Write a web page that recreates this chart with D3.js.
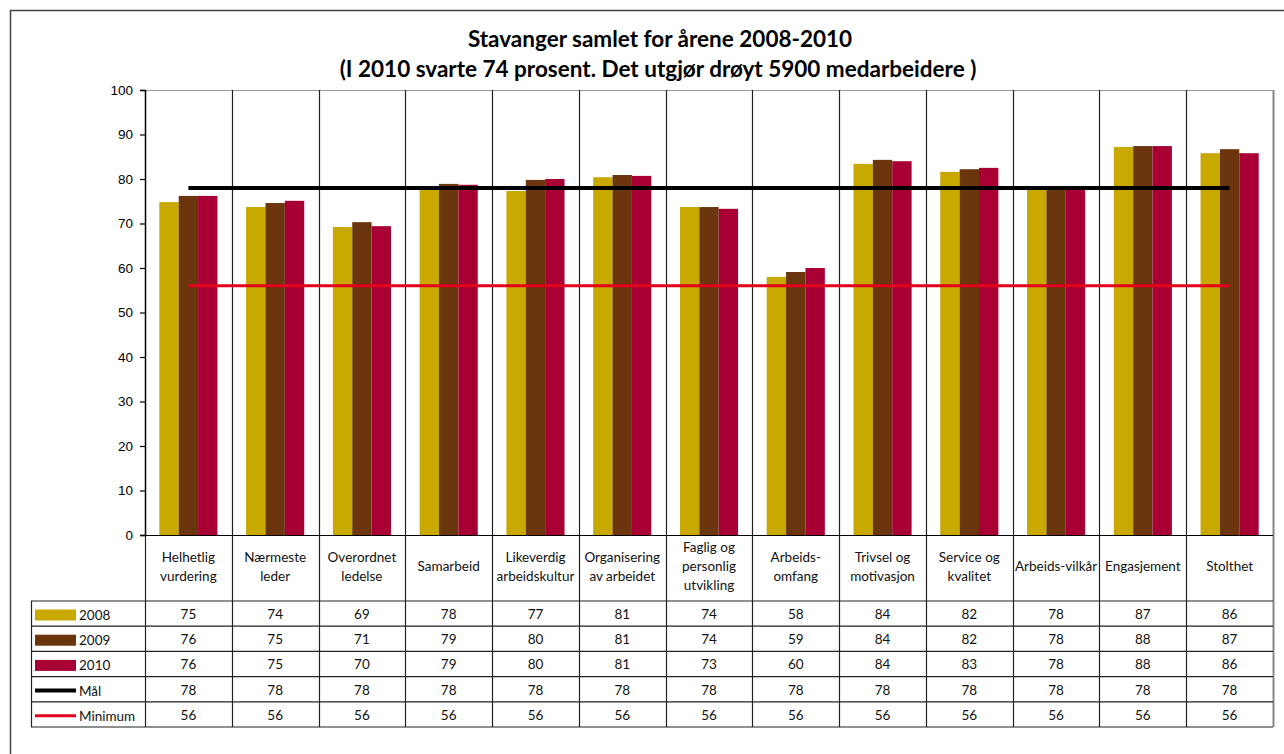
<!DOCTYPE html>
<html>
<head>
<meta charset="utf-8">
<script src="https://cdn.jsdelivr.net/npm/d3@7"></script>
<style>
  body { margin: 0; background: #fff; }
  svg text { font-family: Lato, "Open Sans", sans-serif; }
</style>
</head>
<body>
<div id="chart"></div>
<script>
var vWidth = 1284;
var vHeight = 754;

// categories (label lines) and series values
var categories = [
  ["Helhetlig", "vurdering"], ["Nærmeste", "leder"], ["Overordnet", "ledelse"],
  ["Samarbeid"], ["Likeverdig", "arbeidskultur"], ["Organisering", "av arbeidet"],
  ["Faglig og", "personlig", "utvikling"], ["Arbeids-", "omfang"], ["Trivsel og", "motivasjon"],
  ["Service og", "kvalitet"], ["Arbeids-vilkår"], ["Engasjement"], ["Stolthet"]
];
var years = ["2008", "2009", "2010"];
// table values (rounded, as printed)
var v2008 = [75, 74, 69, 78, 77, 81, 74, 58, 84, 82, 78, 87, 86];
var v2009 = [76, 75, 71, 79, 80, 81, 74, 59, 84, 82, 78, 88, 87];
var v2010 = [76, 75, 70, 79, 80, 81, 73, 60, 84, 83, 78, 88, 86];
var maal = [78, 78, 78, 78, 78, 78, 78, 78, 78, 78, 78, 78, 78];
var minimum = [56, 56, 56, 56, 56, 56, 56, 56, 56, 56, 56, 56, 56];
// bar heights (unrounded)
var bar2008 = [74.8, 73.7, 69.2, 77.8, 77.3, 80.4, 73.7, 58.0, 83.4, 81.6, 77.7, 87.2, 85.8];
var bar2009 = [76.2, 74.6, 70.3, 78.9, 79.8, 80.9, 73.7, 59.1, 84.3, 82.2, 77.7, 87.4, 86.7];
var bar2010 = [76.2, 75.1, 69.4, 78.7, 80.0, 80.7, 73.3, 60.0, 84.0, 82.5, 77.7, 87.4, 85.8];
var yTicks = [0, 10, 20, 30, 40, 50, 60, 70, 80, 90, 100];

var barColors = ["#C9A800", "#6B360D", "#A80034"];
var series = [bar2008, bar2009, bar2010];

var svg = d3.select("#chart").append("svg")
  .attr("width", vWidth).attr("height", vHeight);

// outer frame
svg.append("rect").attr("x", 10.5).attr("y", 10.5)
  .attr("width", 1290).attr("height", 760)
  .attr("fill", "none").attr("stroke", "#444").attr("stroke-width", 1.5);

// title
svg.append("text").attr("x", 660).attr("y", 47).attr("text-anchor", "middle")
  .attr("font-size", 22.5).attr("font-weight", "bold")
  .text("Stavanger samlet for årene 2008-2010");
svg.append("text").attr("x", 658).attr("y", 77).attr("text-anchor", "middle")
  .attr("font-size", 22.5).attr("font-weight", "bold")
  .text("(I 2010 svarte 74 prosent. Det utgjør drøyt 5900 medarbeidere )");

var pLeft = 145, pRight = 1273, pTop = 90, pBottom = 535;
var labelBottom = 601, tableBottom = 727;
var idx = d3.range(categories.length);

var x = d3.scaleBand().domain(idx).range([pLeft, pRight]).padding(0);
var y = d3.scaleLinear().domain([0, 100]).range([pBottom, pTop]);
var groupW = x.bandwidth() * 0.67;
var x1 = d3.scaleBand().domain(years).range([0, groupW]).padding(0);

// plot top line
svg.append("line").attr("x1", pLeft).attr("x2", pRight).attr("y1", pTop + 0.5).attr("y2", pTop + 0.5)
  .attr("stroke", "#999").attr("stroke-width", 1);

// bars
years.forEach(function (yr, s) {
  svg.append("g").selectAll("rect").data(idx).enter().append("rect")
    .attr("x", function (i) { return x(i) + (x.bandwidth() - groupW) / 2 + x1(yr); })
    .attr("width", x1.bandwidth())
    .attr("y", function (i) { return y(series[s][i]); })
    .attr("height", function (i) { return pBottom - y(series[s][i]); })
    .attr("fill", barColors[s]);
});

// vertical lines between categories (through the table)
svg.append("g").selectAll("line").data(idx).enter().append("line")
  .attr("x1", function (i) { return Math.round(x(i) + x.bandwidth()) + 0.5; })
  .attr("x2", function (i) { return Math.round(x(i) + x.bandwidth()) + 0.5; })
  .attr("y1", pTop).attr("y2", tableBottom)
  .attr("stroke", function (i) { return i === idx.length - 1 ? "#888" : "#222"; })
  .attr("stroke-width", function (i) { return i === idx.length - 1 ? 2 : 1.2; });

// target lines
var lineGen = d3.line()
  .x(function (d, i) { return x(i) + x.bandwidth() / 2; })
  .y(function (d) { return y(d); });
svg.append("path").datum(maal).attr("d", lineGen)
  .attr("fill", "none").attr("stroke", "#000").attr("stroke-width", 4);
svg.append("path").datum(minimum).attr("d", lineGen)
  .attr("fill", "none").attr("stroke", "#E2001A").attr("stroke-width", 3);

// y axis
var yAxis = svg.append("g").attr("transform", "translate(" + pLeft + ",0)")
  .call(d3.axisLeft(y).tickValues(yTicks).tickSize(5).tickPadding(7));
yAxis.select(".domain").attr("stroke", "#000").attr("stroke-width", 1.5);
yAxis.selectAll(".tick line").attr("stroke", "#000").attr("stroke-width", 1.2);
yAxis.selectAll("text").style("font-family", "'Liberation Sans', Arial, sans-serif")
  .attr("font-size", 13.5).attr("fill", "#000");

// category label row
svg.append("line").attr("x1", pLeft).attr("x2", pRight).attr("y1", pBottom + 0.5).attr("y2", pBottom + 0.5)
  .attr("stroke", "#000").attr("stroke-width", 1.2);

var labels = svg.append("g").selectAll("text").data(idx).enter().append("text")
  .attr("text-anchor", "middle").attr("font-size", 13.5).attr("fill", "#111");
labels.each(function (i) {
  var lines = categories[i];
  var lh = 19;
  var cy = (pBottom + labelBottom) / 2 - 2;
  var y0 = cy - (lines.length - 1) * lh / 2 + 5;
  var t = d3.select(this);
  lines.forEach(function (ln, k) {
    t.append("tspan").attr("x", x(i) + x.bandwidth() / 2).attr("y", y0 + k * lh).text(ln);
  });
});

// data table
var rowNames = ["2008", "2009", "2010", "Mål", "Minimum"];
var rowData = [v2008, v2009, v2010, maal, minimum];
var rowH = (tableBottom - labelBottom) / rowNames.length;
var tableLeft = 31;

d3.range(rowNames.length + 1).forEach(function (r) {
  svg.append("line").attr("x1", tableLeft).attr("x2", pRight)
    .attr("y1", labelBottom + r * rowH).attr("y2", labelBottom + r * rowH)
    .attr("stroke", "#222").attr("stroke-width", 1.2);
});
svg.append("line").attr("x1", tableLeft + 0.5).attr("x2", tableLeft + 0.5)
  .attr("y1", labelBottom).attr("y2", tableBottom).attr("stroke", "#222").attr("stroke-width", 1.2);
svg.append("line").attr("x1", pLeft + 0.5).attr("x2", pLeft + 0.5)
  .attr("y1", pBottom).attr("y2", tableBottom).attr("stroke", "#222").attr("stroke-width", 1.2);

rowNames.forEach(function (name, r) {
  var ry = labelBottom + r * rowH;
  var g = svg.append("g");
  if (r < 3) {
    g.append("rect").attr("x", 35).attr("y", ry + 8.5).attr("width", 41).attr("height", 11)
      .attr("fill", barColors[r]);
  } else {
    g.append("line").attr("x1", 35).attr("x2", 76).attr("y1", ry + 14).attr("y2", ry + 14)
      .attr("stroke", r === 3 ? "#000" : "#E2001A").attr("stroke-width", r === 3 ? 4 : 3);
  }
  g.append("text").attr("x", 79).attr("y", ry + 19).attr("font-size", 13.5).attr("fill", "#111").text(name);

  g.selectAll(".v").data(idx).enter().append("text")
    .attr("x", function (i) { return x(i) + x.bandwidth() / 2; })
    .attr("y", ry + 18)
    .attr("text-anchor", "middle").attr("font-size", 13.5).attr("fill", "#111")
    .text(function (i) { return rowData[r][i]; });
});
</script>
</body>
</html>
